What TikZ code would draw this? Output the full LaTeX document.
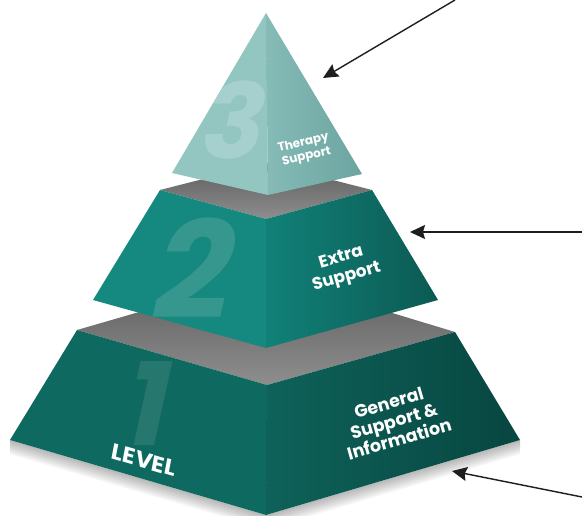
\documentclass[tikz,border=0pt]{standalone}
\usepackage{fontspec}
\setmainfont{Poppins}
\usetikzlibrary{arrows.meta}

\definecolor{topL}{HTML}{93C5C1}
\definecolor{topRa}{HTML}{86BBB7}
\definecolor{topRb}{HTML}{6BA4A0}
\definecolor{midL}{HTML}{15897F}
\definecolor{midRa}{HTML}{118178}
\definecolor{midRb}{HTML}{0B5A53}
\definecolor{botL}{HTML}{0E6A60}
\definecolor{botRa}{HTML}{0E6259}
\definecolor{botRb}{HTML}{084641}
\definecolor{greyDark}{HTML}{5C5C5C}
\definecolor{greyLight}{HTML}{8E8E8E}
\definecolor{numTop}{HTML}{A6D0CD}
\definecolor{numMid}{HTML}{35978E}
\definecolor{numBot}{HTML}{26776E}
\definecolor{ink}{HTML}{1E1E1E}

\begin{document}
\begin{tikzpicture}[x=1pt,y=-1pt,
  facetext/.style={text=white, align=center, inner sep=0pt, font=\bfseries},
  bignum/.style={inner sep=0pt, font=\bfseries, xslant=0.22},
  link/.style={draw=ink, line width=1.4pt, -{Stealth[length=15pt,width=14pt,inset=2pt]}}]

\useasboundingbox (0,0) rectangle (582,516);

% corners of the three tiers
\coordinate (apex) at (266,13);
\coordinate (tl) at (172,173);
\coordinate (tf) at (268,195);
\coordinate (tr) at (362,174);

\coordinate (ml) at (160,190);
\coordinate (mf) at (266,219);
\coordinate (mr) at (372,190);
\coordinate (mb) at (266,163);
\coordinate (mbl) at (93,300);
\coordinate (mbf) at (266,348);
\coordinate (mbr) at (438,300);

\coordinate (bl) at (77,330);
\coordinate (bf) at (267,385);
\coordinate (br) at (455,332);
\coordinate (bb) at (267,275);
\coordinate (bbl) at (10,440);
\coordinate (bbf) at (266,515);
\coordinate (bbr) at (520,440);

% soft shadow beneath the base
\foreach \d in {2,4,...,14}
  \fill[black, opacity=0.045] ([yshift=-\d pt]bbl) -- ([yshift=-\d pt]bbf) -- ([yshift=-\d pt]bbr) -- (bbr) -- (bbf) -- (bbl) -- cycle;

% ---- level 1 ----
\shade[top color=greyDark, bottom color=greyLight] (bl) -- (bb) -- (br) -- (bf) -- cycle;
\fill[botL] (bl) -- (bf) -- (bbf) -- (bbl) -- cycle;
\shade[left color=botRa, right color=botRb] (bf) -- (br) -- (bbr) -- (bbf) -- cycle;
\begin{scope}
  \clip (bl) -- (bf) -- (bbf) -- (bbl) -- cycle;
  \node[bignum, text=numBot, font=\bfseries\fontsize{115}{115}\selectfont] (one) at (150,404) {1};
\end{scope}

% ---- level 2 ----
\shade[top color=greyDark, bottom color=greyLight] (ml) -- (mb) -- (mr) -- (mf) -- cycle;
\fill[midL] (ml) -- (mf) -- (mbf) -- (mbl) -- cycle;
\shade[left color=midRa, right color=midRb] (mf) -- (mr) -- (mbr) -- (mbf) -- cycle;
\begin{scope}
  \clip (ml) -- (mf) -- (mbf) -- (mbl) -- cycle;
  \node[bignum, text=numMid, font=\bfseries\fontsize{135}{135}\selectfont] (two) at (197,268) {2};
\end{scope}

% ---- level 3 ----
\fill[topL] (apex) -- (tl) -- (tf) -- cycle;
\shade[left color=topRa, right color=topRb] (apex) -- (tf) -- (tr) -- cycle;
\begin{scope}
  \clip (apex) -- (tl) -- (tf) -- cycle;
  \node[bignum, text=numTop, font=\bfseries\fontsize{104}{104}\selectfont] (three) at (236,120) {3};
\end{scope}

% ---- labels ----
\node[facetext, rotate=13, font=\bfseries\fontsize{12}{14}\selectfont] (l3) at (305,150) {Therapy\\Support};
\node[facetext, rotate=16, font=\bfseries\fontsize{17}{20}\selectfont] (l2) at (344,268) {Extra\\Support};
\node[facetext, rotate=16, font=\bfseries\fontsize{17.5}{19}\selectfont] (l1) at (394,421) {General\\Support \&\\Information};
\node[facetext, yslant=-0.29, xslant=0.18, font=\bfseries\fontsize{23}{23}\selectfont] (lvl) at (144,460) {LEVEL};

% ---- pointers ----
\coordinate (p3s) at (455,0);
\coordinate (p3e) at (323,78);
\coordinate (p2s) at (582,232);
\coordinate (p2e) at (410,232);
\coordinate (p1s) at (582,497);
\coordinate (p1e) at (452,471);
\draw[link] (p3s) -- (p3e);
\draw[link] (p2s) -- (p2e);
\draw[link] (p1s) -- (p1e);
\end{tikzpicture}
\end{document}
